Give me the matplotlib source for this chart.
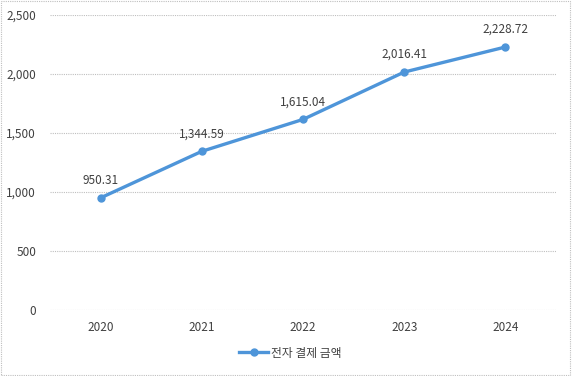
import matplotlib
matplotlib.use("Agg")
import matplotlib.pyplot as plt
from matplotlib.patches import Rectangle

plt.rcParams['font.family'] = ['Noto Sans CJK KR', 'DejaVu Sans']

years = ["2020", "2021", "2022", "2023", "2024"]
amounts = [950.31, 1344.59, 1615.04, 2016.41, 2228.72]
series_name = "전자 결제 금액"

LINE = "#4E95D9"
TXT = "#404040"

fig = plt.figure(figsize=(5.72, 3.76), dpi=100)
ax = fig.add_axes([50/572, 1-310/376, 506/572, 295/376])

x = range(len(years))
ax.plot(x, amounts, color=LINE, lw=2.4, marker="o", ms=5, label=series_name)
for xi, v in zip(x, amounts):
    ax.annotate(f"{v:,.2f}", (xi, v), xytext=(0, 8), textcoords="offset points",
                ha="center", va="bottom", fontsize=8.5, color=TXT)

ax.set_xlim(-0.5, len(years) - 0.5)
ax.set_ylim(0, 2500)
ax.set_yticks(range(0, 2501, 500))
ax.set_yticklabels([f"{t:,}" for t in range(0, 2501, 500)])
ax.set_xticks(list(x))
ax.set_xticklabels(years)
ax.tick_params(length=0, labelsize=8.5, colors=TXT, pad=8)
ax.tick_params(axis="y", pad=10)
ax.grid(axis="y", color="#BFBFBF", ls=(0, (1, 1)), lw=0.8)
ax.set_axisbelow(True)
for s in ax.spines.values():
    s.set_visible(False)

leg = fig.legend(loc="center", bbox_to_anchor=(290/572, 1-353/376), frameon=False,
                 fontsize=8.5, handlelength=2.5, handletextpad=0.2, labelcolor=TXT)

fig.patches.append(Rectangle((0.002, 0.003), 0.995, 0.994, transform=fig.transFigure,
                             fill=False, ec="#BFBFBF", ls=(0, (1, 1)), lw=0.8))

fig.savefig("out.png", dpi=100)
